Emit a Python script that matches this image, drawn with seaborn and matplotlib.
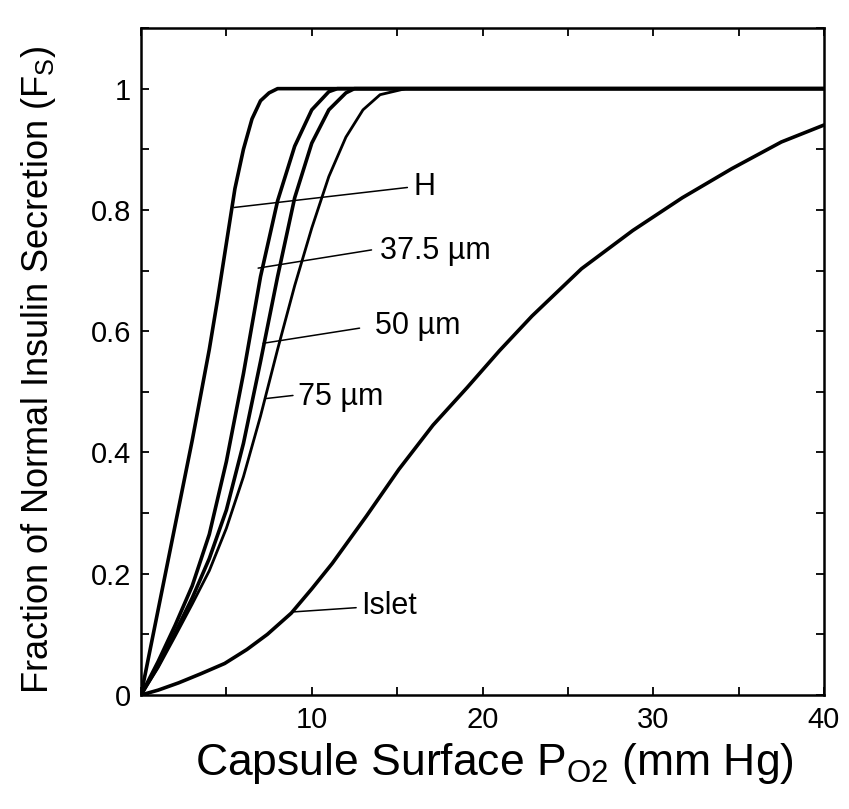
import numpy as np
import pandas as pd
import matplotlib
matplotlib.use("Agg")
import matplotlib.pyplot as plt
import seaborn as sns

# ---- data ----
h_x = [0, 1, 2, 3, 4, 4.5, 5, 5.5, 6, 6.5, 7, 7.5, 8, 40]
h_y = [0, 0.14, 0.28, 0.42, 0.57, 0.655, 0.745, 0.835, 0.90, 0.95, 0.98, 0.993, 1.0, 1.0]

c375_x = [0, 1, 2, 3, 4, 5, 6, 7, 8, 9, 10, 11, 11.5, 40]
c375_y = [0, 0.055, 0.115, 0.18, 0.265, 0.385, 0.53, 0.69, 0.815, 0.905, 0.965, 0.995, 1.0, 1.0]

c50_x = [0, 1, 2, 3, 4, 5, 6, 7, 8, 9, 10, 11, 12, 12.5, 40]
c50_y = [0, 0.048, 0.103, 0.16, 0.225, 0.305, 0.415, 0.55, 0.69, 0.82, 0.91, 0.965, 0.993, 1.0, 1.0]

c75_x = [0, 1, 2, 3, 4, 5, 6, 7, 8, 9, 10, 11, 12, 13, 14, 15.5, 40]
c75_y = [0, 0.045, 0.097, 0.15, 0.205, 0.275, 0.36, 0.46, 0.57, 0.675, 0.77, 0.855, 0.92, 0.965, 0.99, 1.0, 1.0]

islet_x = [0, 1, 2.2, 3.5, 4.9, 6.2, 7.4, 8.8, 10, 11.2, 13.2, 15.1, 17.1, 19.1, 21,
           22.9, 25.8, 28.8, 31.7, 34.6, 37.5, 40]
islet_y = [0, 0.008, 0.02, 0.035, 0.052, 0.075, 0.10, 0.135, 0.175, 0.217, 0.295, 0.372,
           0.445, 0.507, 0.568, 0.625, 0.703, 0.766, 0.82, 0.868, 0.912, 0.94]

labels = ["H", "37.5 \u00b5m", "50 \u00b5m", "75 \u00b5m", "Islet"]
# annotation: (line start x, y) on curve, (line end x, y), text x
ann_start = [(5.45, 0.804), (6.86, 0.704), (7.15, 0.580), (7.35, 0.489), (8.9, 0.137)]
ann_end = [(15.6, 0.837), (13.5, 0.734), (12.8, 0.605), (8.9, 0.494), (12.6, 0.144)]
text_pos = [(15.95, 0.837), (14.0, 0.732), (13.7, 0.609), (9.2, 0.491), (12.9, 0.146)]

x_ticks = [0, 5, 10, 15, 20, 25, 30, 35, 40]
x_ticklabels = ["", "", "10", "", "20", "", "30", "", "40"]
y_ticks = [0, 0.1, 0.2, 0.3, 0.4, 0.5, 0.6, 0.7, 0.8, 0.9, 1.0, 1.1]
y_ticklabels = ["0", "", "0.2", "", "0.4", "", "0.6", "", "0.8", "", "1", ""]

# ---- style ----
sns.set_style("ticks")
plt.rcParams["font.family"] = ["Liberation Sans", "DejaVu Sans"]
plt.rcParams["mathtext.fontset"] = "custom"
plt.rcParams["mathtext.rm"] = "Liberation Sans"
plt.rcParams["mathtext.it"] = "Liberation Sans"

fig = plt.figure(figsize=(8.49, 8.09), dpi=100)
ax = fig.add_axes([141 / 849, 1 - 695 / 809, (824 - 141) / 849, (695 - 28) / 809])

curves = [(h_x, h_y, 2.6), (c375_x, c375_y, 2.6), (c50_x, c50_y, 2.6),
          (c75_x, c75_y, 2.0), (islet_x, islet_y, 2.6)]
for (xs, ys, lw), lab in zip(curves, labels):
    df = pd.DataFrame({"x": xs, "y": ys})
    sns.lineplot(data=df, x="x", y="y", ax=ax, color="black", linewidth=lw,
                 sort=False, estimator=None, legend=False)

for (x0, y0), (x1, y1), (tx, ty), lab in zip(ann_start, ann_end, text_pos, labels):
    sns.lineplot(x=[x0, x1], y=[y0, y1], ax=ax, color="black", linewidth=1.1,
                 sort=False, estimator=None, legend=False)
    ax.text(tx, ty, lab, fontsize=22, va="center", ha="left", color="black")

ax.set_xlim(0, 40)
ax.set_ylim(0, 1.1)
ax.set_xticks(x_ticks)
ax.set_xticklabels(x_ticklabels)
ax.set_yticks(y_ticks)
ax.set_yticklabels(y_ticklabels)
ax.tick_params(direction="in", length=6, width=1.3, top=True, right=True,
               labelsize=21, colors="black")
ax.tick_params(axis="x", pad=8)
ax.tick_params(axis="y", pad=7)
for s in ax.spines.values():
    s.set_visible(True)
    s.set_linewidth(1.8)
    s.set_color("black")

ax.set_xlabel(r"Capsule Surface P$_\mathrm{O2}$ (mm Hg)", fontsize=32, labelpad=5,
              color="black")
ax.set_ylabel(r"Fraction of Normal Insulin Secretion (F$_\mathrm{S}$)", fontsize=26,
              labelpad=24, color="black")
ax.xaxis.label.set_x(0.518)
ax.yaxis.label.set_y(0.487)

fig.savefig("out.png", dpi=100)
